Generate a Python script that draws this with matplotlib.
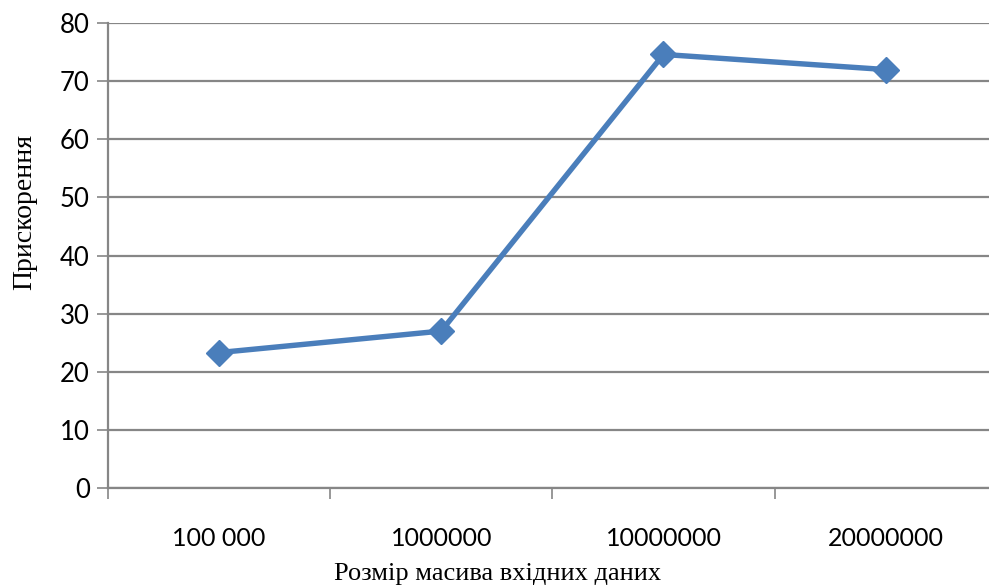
import numpy as np
import matplotlib.pyplot as plt

# speedup vs. input array size
sizes = ["100 000", "1000000", "10000000", "20000000"]
speedup = [23.3, 27.0, 74.6, 72.0]

y_ticks = list(range(0, 81, 10))

line_color = "#4a7ebb"
grid_color = "#868686"

fig = plt.figure(figsize=(9.89, 5.87), dpi=100)
ax = fig.add_axes([0.109, 0.1687, 0.899, 0.792])

x = np.arange(len(sizes))
ax.plot(x, speedup, color=line_color, linewidth=3.9, marker="D",
        markersize=13, markerfacecolor=line_color, markeredgecolor=line_color,
        zorder=3, clip_on=False)

ax.set_xlim(-0.5, len(sizes) - 0.5)
ax.set_ylim(0, 80)
ax.set_yticks(y_ticks)
ax.yaxis.grid(True, color=grid_color, linewidth=1.6)
ax.set_axisbelow(True)

# category labels centred, tick marks on the category boundaries
ax.set_xticks(np.arange(len(sizes) + 1) - 0.5)
ax.set_xticklabels([])
ax.set_xticks(x, minor=True)
ax.set_xticklabels(sizes, minor=True, fontname="Lato", fontsize=18)
ax.tick_params(axis="x", which="major", length=8, width=1.2, color=grid_color,
               direction="out")
ax.tick_params(axis="x", which="minor", length=0, pad=28)
ax.tick_params(axis="y", length=8, width=1.2, color=grid_color, direction="out",
               pad=5)
for lbl in ax.get_yticklabels():
    lbl.set_fontname("Lato")
    lbl.set_fontsize(18.5)

for side in ["top", "right"]:
    ax.spines[side].set_visible(False)
for side in ["left", "bottom"]:
    ax.spines[side].set_color(grid_color)
    ax.spines[side].set_linewidth(1.6)

fig.text(0.025, 0.639, "Прискорення", rotation=90, va="center", ha="center",
         fontname="Liberation Serif", fontsize=20)
fig.text(0.503, 0.022, "Розмір масива вхідних даних", va="center", ha="center",
         fontname="Liberation Serif", fontsize=19)

fig.savefig("out.png", dpi=100)
